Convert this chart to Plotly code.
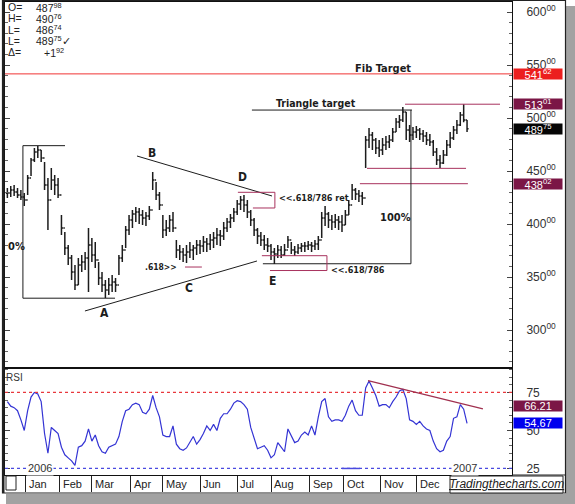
import plotly.graph_objects as go

# ---------------- data ----------------
# trading-day index of each two-session bar (0 = first session of Jan 2006)
bar_day = list(range(-11, 263, 2))

hi = [43400, 43590, 43680, 43400, 43210, 42920,
      44620, 46230, 47170, 47360, 46980, 45850, 44340, 45280, 44620, 44340,
      40850, 39250, 38020, 37080, 36130, 36790, 37080, 37360, 39620, 38680,
      38300, 36420, 35470, 34720, 34910, 35190, 34910, 37080, 38020, 39810,
      40850, 41320, 41600, 41510, 41320, 41130, 41700, 44910, 43960, 43020,
      40850, 40380, 40850, 41130, 38490, 38020, 37740, 38020, 38300, 38020,
      38490, 38490, 38870, 38680, 39060, 39250, 39620, 39430, 40190, 40570,
      40940, 41510, 42260, 42640, 42740, 42260, 41320, 40570, 39620, 39250,
      38960, 38680, 38110, 37740, 38020, 37920, 38110, 38870, 38300, 37920,
      38110, 38210, 38300, 38400, 38300, 38490, 38870, 41130, 41700, 41130,
      40850, 40940, 40760, 40850, 41320, 42260, 43770, 43400, 43210, 43020,
      48300, 49060, 48680, 48110, 47920, 48110, 48300, 48400, 49060, 50000,
      50280, 51040, 50570, 49340, 49150, 49250, 49060, 48870, 48680, 48490,
      47920, 47170, 46510, 46980, 47920, 48680, 49250, 49810, 50570, 51300,
      49810]
lo = [42450, 42550, 42640, 42450, 42260, 41700,
      42740, 44530, 45850, 46230, 45850, 43210, 39430, 43210, 42740, 42450,
      38960, 37080, 36130, 34720, 33770, 34250, 35470, 35660, 33590, 36420,
      35850, 34250, 33590, 33020, 33300, 33590, 33590, 35190, 36420, 37740,
      38960, 39620, 40190, 40000, 39910, 39810, 40380, 43210, 42260, 41320,
      38680, 38870, 39250, 39250, 36790, 36600, 36420, 36320, 36790, 36600,
      37080, 37170, 37360, 37360, 37550, 37740, 38020, 37920, 38490, 39250,
      39620, 40190, 40850, 41320, 41130, 40570, 39810, 38870, 38110, 37920,
      37550, 37360, 36600, 36230, 36790, 36790, 36980, 37740, 37170, 36980,
      37170, 37360, 37360, 37550, 37360, 37550, 37550, 38680, 39810, 39620,
      39430, 39620, 39430, 39250, 39910, 40850, 42260, 42260, 42080, 41790,
      45280, 47170, 46980, 46600, 46320, 46510, 46980, 47170, 47740, 48680,
      49060, 49620, 47920, 47740, 47920, 48110, 47920, 47740, 47450, 47360,
      46420, 45570, 45280, 45660, 46420, 47170, 47920, 48490, 49250, 49600,
      48674]
cl = [42920, 43210, 43020, 42740, 42550, 42260,
      44340, 46040, 46790, 46980, 46230, 43680, 42260, 44150, 43680, 42740,
      39620, 37740, 36790, 35470, 34250, 36130, 36420, 36790, 38020, 37080,
      36600, 34910, 34250, 33770, 34250, 34530, 34250, 36790, 37550, 39430,
      40380, 40940, 41130, 40850, 40570, 40760, 41320, 44150, 42740, 41790,
      39430, 39620, 40380, 39620, 37550, 37360, 37080, 37360, 37550, 37740,
      38020, 37920, 38300, 38110, 38490, 38680, 38960, 38870, 39620, 40190,
      40570, 41130, 41890, 42260, 41790, 41130, 40380, 39430, 38870, 38490,
      38020, 37920, 37360, 37170, 37550, 37080, 37550, 38490, 37550, 37360,
      37740, 37920, 37920, 38020, 37920, 38110, 38490, 40570, 40940, 40380,
      40190, 40380, 40190, 39910, 40850, 41790, 43210, 42830, 42640, 42450,
      47920, 48400, 47920, 47170, 46980, 47450, 47740, 47920, 48680, 49620,
      49810, 50570, 48870, 48400, 48680, 48870, 48490, 48300, 47920, 47740,
      46790, 46040, 45760, 46510, 47450, 48110, 48870, 49340, 50280, 49810,
      48975]
first_open = 42900
op = [first_open] + cl[:-1]

rsi = [69, 66, 65, 63, 57, 50,
       63, 72, 75, 74, 69, 48, 35, 52, 50, 48,
       39, 34, 32, 30, 27, 39, 40, 43, 51, 43,
       47, 40, 36, 35, 39, 40, 41, 46, 56, 63,
       64, 67, 68, 67, 62, 61, 64, 73, 65, 59,
       47, 46, 46, 53, 41, 38, 37, 38.5, 42, 46,
       41, 44, 48, 53, 50, 54, 50, 58, 61, 61,
       64, 68, 69.6, 69, 67, 64, 52, 45, 38, 39,
       40, 37, 32, 34, 42, 39, 36, 51, 47, 42,
       43, 47, 49, 47, 53, 47, 59, 69, 71, 59,
       56, 57, 57, 56, 60, 66, 70, 63, 60, 60,
       78, 82.5, 78, 73, 66, 67, 67, 65, 69, 72,
       76, 77, 71, 57, 56, 54, 56, 53, 51, 50,
       43, 38, 36, 37, 43, 46, 58, 59, 67, 64,
       54.67]

month_names = ["Jan", "Feb", "Mar", "Apr", "May", "Jun",
               "Jul", "Aug", "Sep", "Oct", "Nov", "Dec"]
month_start = [0, 20, 39, 62, 81, 103, 125, 145, 168, 188, 210, 231]
next_year_start = 251

price_ticks = [30000, 35000, 40000, 45000, 50000, 55000, 60000]
rsi_ticks = [25, 50, 75]

ohlc_labels = ["O=", "H=", "L=", "L=", "Δ="]
ohlc_values = ["48798", "49076", "48674", "48975", "+192"]

fib_target = 54162
recent_high = 51301
last_close = 48975
support_level = 43802
upper_support = 45250
triangle_target = 50750
measure_base = 36250
jan_high, jan_low = 47390, 33000
rsi_overbought, rsi_oversold = 75, 25
rsi_last = 54.67
rsi_line_value = 66.21

# ---------------- helpers ----------------
W, H = 575, 504
L_PX, R_PX, T_PX, B_PX = 5, 512, 2, 475
SPLIT_PX = 368


def px(x):
    return (x - L_PX) / (R_PX - L_PX)


def py(y):
    return (B_PX - y) / (B_PX - T_PX)


def fmt(v):
    s = str(v)
    return s[:-2] + "<sup>" + s[-2:] + "</sup>"


MAROON = "#a8325e"
BOLD = "Liberation Sans Narrow, DejaVu Sans Condensed, Arial Narrow, sans-serif"
BASE = "Liberation Sans, Arial, sans-serif"

fig = go.Figure()
fig.add_trace(go.Ohlc(
    x=bar_day, open=op, high=hi, low=lo, close=cl,
    increasing=dict(line=dict(color="#1c1c1c", width=1.5)),
    decreasing=dict(line=dict(color="#1c1c1c", width=1.5)),
    tickwidth=0.45, xaxis="x", yaxis="y", showlegend=False, hoverinfo="skip"))
fig.add_trace(go.Scatter(
    x=bar_day, y=rsi, mode="lines", line=dict(color="#3434d4", width=1.2),
    xaxis="x2", yaxis="y2", showlegend=False, hoverinfo="skip"))

shapes = []


def line(x0, y0, x1, y1, color="#1c1c1c", width=1, xref="x", yref="y", dash=None):
    d = dict(type="line", x0=x0, y0=y0, x1=x1, y1=y1, xref=xref, yref=yref,
             line=dict(color=color, width=width))
    if dash:
        d["line"]["dash"] = dash
    shapes.append(d)


def path(pts, color, width=1, xref="x", yref="y"):
    p = "M " + " L ".join(f"{a},{b}" for a, b in pts)
    shapes.append(dict(type="path", path=p, xref=xref, yref=yref,
                       line=dict(color=color, width=width)))


# price-panel analysis lines
line(0, fib_target, 1, fib_target, color="#f03434", xref="paper")
line(133.7, triangle_target, 228.4, triangle_target)
line(224.3, recent_high, 280.5, recent_high, color=MAROON)
line(201.8, upper_support, 260.4, upper_support, color=MAROON)
line(197.6, support_level, 261.5, support_level, color=MAROON)
line(227.8, triangle_target, 227.8, measure_base)
line(140.2, measure_base, 227.8, measure_base)
path([(23.1, jan_high), (-1.8, jan_high), (-1.8, jan_low), (52.7, jan_low)], "#1c1c1c")
line(65.7, 46415, 145.6, 42641)      # B-D
line(34.9, 31795, 136.7, 36510)      # A-C
path([(125.4, 42990), (147.3, 42990), (147.3, 41510), (134.3, 41510)], MAROON)
path([(139.6, 37010), (178.1, 37010), (178.1, 35610), (144.4, 35610)], MAROON)
line(94.1, 35940, 104.1, 35940, color=MAROON)

# RSI panel lines
line(0, rsi_overbought, 1, rsi_overbought, color="#e8383d", width=1.2,
     xref="paper", yref="y2", dash="dot")
line(0, rsi_oversold, 1, rsi_oversold, color="#4a4ae0", width=1.2,
     xref="paper", yref="y2", dash="dot")
line(187, rsi_oversold, 197.6, rsi_oversold, color="#4a4ae0", width=1.5,
     xref="x2", yref="y2")
line(202.4, 82.8, 270.4, 64.2, color="#a0304f", width=1.2, xref="x2", yref="y2")

# frame, shadow, footer
shapes.append(dict(type="rect", xref="paper", yref="paper", x0=px(566), x1=px(576),
                   y0=py(506), y1=py(6), fillcolor="#a2a2a2", line=dict(width=0)))
shapes.append(dict(type="rect", xref="paper", yref="paper", x0=px(6), x1=px(576),
                   y0=py(506), y1=py(494), fillcolor="#a2a2a2", line=dict(width=0)))
shapes.append(dict(type="rect", xref="paper", yref="paper", x0=px(2.5), x1=px(565.5),
                   y0=py(493), y1=py(0.5), line=dict(color="#222", width=1.2)))
line(px(3.5), py(0), px(3.5), py(493), color="#222", width=2, xref="paper", yref="paper")
line(px(R_PX), py(475), px(565.5), py(475), color="#222", width=1, xref="paper", yref="paper")
shapes.append(dict(type="rect", xref="paper", yref="paper", x0=px(6), x1=px(16),
                   y0=py(490), y1=py(476), line=dict(color="#222", width=1)))
shapes.append(dict(type="rect", xref="paper", yref="paper", x0=px(450), x1=px(563),
                   y0=py(493), y1=py(476), fillcolor="white",
                   line=dict(color="#222", width=1)))

ann = []


def text(x, y, t, size=12, color="#1c1c1c", family=BOLD, xref="x", yref="y",
         xanchor="center", bold=True, **kw):
    ann.append(dict(x=x, y=y, xref=xref, yref=yref, text=(f"<b>{t}</b>" if bold else t),
                    showarrow=False, xanchor=xanchor, yanchor="middle",
                    font=dict(size=size, color=color, family=family), **kw))


text(211.2, 54717, "Fib Target", size=11)
text(171.6, 51415, "Triangle target", size=10.5)
text(170.4, 42453, "&lt;&lt;.618/786 ret", size=9)
text(218.9, 40660, "100%", size=11)
text(196.4, 35707, "&lt;&lt;.618/786", size=9)
text(79.9, 35943, ".618&gt;&gt;", size=8.5)
text(px(6), 37924, "0%", size=11, xref="paper", xanchor="left")
for lab, xx, yy in [("A", 46.7, 31603), ("B", 74.6, 46698), ("C", 96.4, 33962),
                    ("D", 128.4, 44434), ("E", 145.6, 34622)]:
    text(xx, yy, lab, size=12)

# OHLC readout
for i, (lab, val) in enumerate(zip(ohlc_labels, ohlc_values)):
    yy = py(7 + i * 11.3)
    text(px(6), yy, lab, size=10.5, color="#222", family=BASE, xref="paper",
         yref="paper", xanchor="left", bold=False)
    v = fmt(val) + ("✓" if i == 3 else "")
    text(px(34 if i < 4 else 42), yy, v, size=10.5, color="#222", family=BASE,
         xref="paper", yref="paper", xanchor="left", bold=False)

text(px(4), py(377), "RSI", size=10, color="#333", family=BASE, xref="paper",
     yref="paper", xanchor="left", bold=False)
text(8.3, rsi_oversold, "2006", size=11, color="#333", family=BASE, xref="x2",
     yref="y2", bold=False, bgcolor="white")
text(259.5, rsi_oversold, "2007", size=11, color="#333", family=BASE, xref="x2",
     yref="y2", bold=False, bgcolor="white")
for name, start in zip(month_names, month_start):
    text(start + 0.7, py(483.5), name, size=11, color="#222", family=BASE,
         xref="x2", yref="paper", xanchor="left", bold=False)
text(px(506.5), py(484.5), "<i><u>Tradingthecharts.com</u></i>", size=12,
     color="#222", family=BASE, xref="paper", yref="paper", bold=False)

# value boxes on the right axis
for val, col in [(fib_target, "#ec1e1e"), (recent_high, "#7b1646"),
                 (last_close, "#050505"), (support_level, "#7b1646")]:
    ann.append(dict(x=px(513), y=val, xref="paper", yref="y", text=fmt(val),
                    showarrow=False, xanchor="left", yanchor="middle", align="center",
                    width=48, height=10, bgcolor=col, borderpad=0,
                    font=dict(size=11, color="white", family=BASE)))
for val, col in [(rsi_line_value, "#7b1646"), (rsi_last, "#0000ee")]:
    ann.append(dict(x=px(513), y=val, xref="paper", yref="y2", text=f"{val:.2f}",
                    showarrow=False, xanchor="left", yanchor="middle", align="center",
                    width=48, height=10, bgcolor=col, borderpad=0,
                    font=dict(size=11, color="white", family=BASE)))

split = py(SPLIT_PX)
xrange_ = [-12.4, 287.6]
fig.update_layout(
    template="none",
    width=W, height=H,
    margin=dict(l=L_PX, r=W - R_PX, t=T_PX, b=H - B_PX, pad=0, autoexpand=False),
    paper_bgcolor="white", plot_bgcolor="white",
    font=dict(family=BASE, color="#333"),
    showlegend=False,
    xaxis=dict(domain=[0, 1], range=xrange_, anchor="y", showticklabels=False,
               ticks="", showgrid=False, zeroline=False, showline=True,
               linecolor="#111", linewidth=1, mirror=True, automargin=False,
               rangeslider=dict(visible=False)),
    yaxis=dict(domain=[split, 1], range=[26415, 60943], side="right", anchor="x",
               tickvals=price_ticks, ticktext=[fmt(v) for v in price_ticks],
               ticks="inside", ticklen=5, tickcolor="#444", automargin=False,
               minor=dict(dtick=1000, ticks="inside", ticklen=3, tickcolor="#666"),
               showgrid=False, zeroline=False, showline=True, linecolor="#111",
               mirror="ticks", tickfont=dict(size=12, color="#333"),
               ticklabelstandoff=11),
    xaxis2=dict(domain=[0, 1], range=xrange_, anchor="y2", automargin=False,
                tickvals=month_start + [next_year_start], ticks="outside",
                ticklen=16, tickcolor="#222", showticklabels=False, showgrid=False,
                zeroline=False, showline=True, linecolor="#111", mirror=True),
    yaxis2=dict(domain=[0, split], range=[20.7, 91.1], side="right", anchor="x2",
                tickvals=rsi_ticks, ticks="inside", ticklen=5, tickcolor="#444",
                minor=dict(dtick=5, ticks="inside", ticklen=3, tickcolor="#666"),
                showgrid=False, zeroline=False, showline=True, linecolor="#111",
                mirror="ticks", tickfont=dict(size=12, color="#333"),
                ticklabelstandoff=11, automargin=False),
    shapes=shapes, annotations=ann,
)

fig.write_html("out.html", config={"displayModeBar": False},
               post_script="document.body.style.margin='0';document.body.style.padding='0';")
